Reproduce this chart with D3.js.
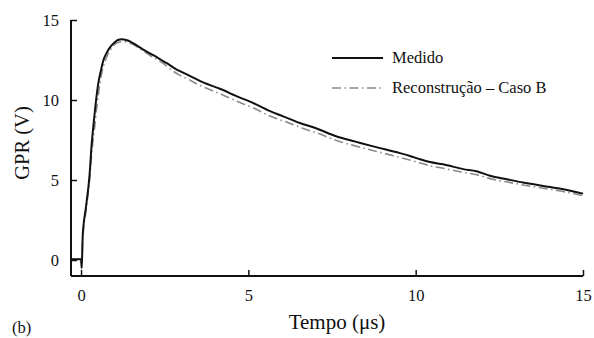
<!DOCTYPE html>
<html>
<head>
<meta charset="utf-8">
<script src="https://cdn.jsdelivr.net/npm/d3@7"></script>
<style>
  body { margin: 0; background: #fff; }
  text { font-family: "Liberation Serif", "Times New Roman", serif; fill: #111; }
</style>
</head>
<body>
<svg width="594" height="338"></svg>
<script>
// data (time in us, GPR in V)
var t_medido = [-0.3, 0.0, 0.02, 0.05, 0.15, 0.25, 0.32, 0.37, 0.45, 0.52, 0.6, 0.67, 0.78, 0.87, 1.0, 1.1, 1.22, 1.35, 1.5, 1.66, 1.9, 2.16, 2.4, 2.56, 2.86, 3.16, 3.4, 3.65, 4.15, 4.75, 5.05, 5.65, 6.04, 6.54, 7.04, 7.64, 8.2, 8.73, 9.53, 9.83, 10.13, 10.43, 10.82, 11.42, 11.82, 12.22, 12.72, 13.21, 13.81, 14.41, 15.0];
var v_medido = [0.05, 0.05, -0.5, 1.5, 3.35, 5.2, 7.3, 8.4, 10.0, 11.1, 11.9, 12.5, 13.0, 13.3, 13.6, 13.75, 13.8, 13.75, 13.62, 13.42, 13.1, 12.8, 12.5, 12.3, 11.9, 11.6, 11.35, 11.1, 10.7, 10.15, 9.9, 9.3, 8.98, 8.56, 8.22, 7.72, 7.4, 7.1, 6.68, 6.5, 6.3, 6.12, 5.98, 5.68, 5.55, 5.27, 5.05, 4.84, 4.63, 4.42, 4.15];

var t_rec = [-0.3, 0.0, 0.02, 0.05, 0.15, 0.25, 0.33, 0.4, 0.48, 0.55, 0.62, 0.7, 0.8, 0.9, 1.02, 1.15, 1.28, 1.4, 1.55, 1.7, 1.95, 2.2, 2.45, 2.6, 2.9, 3.2, 3.45, 3.7, 4.2, 4.8, 5.1, 5.7, 6.1, 6.6, 7.1, 7.7, 8.25, 8.8, 9.55, 9.85, 10.15, 10.45, 10.85, 11.45, 11.85, 12.25, 12.75, 13.25, 13.85, 14.45, 15.0];
var v_rec = [0.05, 0.05, -0.5, 1.3, 3.1, 4.9, 6.9, 8.2, 9.7, 10.8, 11.7, 12.3, 12.85, 13.2, 13.5, 13.62, 13.65, 13.6, 13.48, 13.28, 12.95, 12.6, 12.3, 12.05, 11.6, 11.3, 11.02, 10.78, 10.35, 9.8, 9.55, 8.95, 8.65, 8.25, 7.9, 7.42, 7.1, 6.8, 6.4, 6.24, 6.05, 5.88, 5.72, 5.46, 5.32, 5.07, 4.87, 4.67, 4.47, 4.26, 4.02];

var x_ticks = [0, 5, 10, 15];
var y_ticks = [0, 5, 10, 15];
var series_names = ["Medido", "Reconstrução – Caso B"];

var margin = {left: 71, right: 11, top: 20, bot: 62};

var svg = d3.select("svg");

var x = d3.scaleLinear().domain([-0.3, 15]).range([margin.left, 583]);
var y = d3.scaleLinear().domain([-1, 15]).range([276, 20]);

// axes (ticks inward)
var xAxis = d3.axisBottom(x).tickValues(x_ticks).tickSizeInner(-6).tickSizeOuter(0).tickPadding(13);
var yAxis = d3.axisLeft(y).tickValues(y_ticks).tickSizeInner(-6).tickSizeOuter(0).tickPadding(12);

var gx = svg.append("g").attr("transform", "translate(0,276)").call(xAxis);
var gy = svg.append("g").attr("transform", "translate(" + margin.left + ",0)").call(yAxis);

gx.select(".domain").attr("stroke", "#111").attr("stroke-width", 2).attr("d", "M" + margin.left + ",0H" + x(15));
gy.select(".domain").attr("stroke", "#111").attr("stroke-width", 2).attr("d", "M0," + y(-1) + "V" + y(15));
svg.selectAll(".tick line").attr("stroke", "#111").attr("stroke-width", 1.5);
svg.selectAll(".tick text").attr("font-size", 16.5).attr("fill", "#111");

// axis labels
svg.append("text").attr("x", 337).attr("y", 329).attr("text-anchor", "middle")
   .attr("font-size", 21).text("Tempo (μs)");
svg.append("text").attr("transform", "translate(29,143) rotate(-90)").attr("text-anchor", "middle")
   .attr("font-size", 20.5).text("GPR (V)");
svg.append("text").attr("x", 12).attr("y", 333).attr("font-size", 16.5).text("(b)");

// lines
var line = d3.line().x(function(d){ return x(d[0]); }).y(function(d){ return y(d[1]); }).curve(d3.curveMonotoneX);

var rec = d3.zip(t_rec, v_rec);
var med = d3.zip(t_medido, v_medido);

svg.append("path").datum(rec).attr("d", line).attr("fill", "none")
   .attr("stroke", "#8a8a8a").attr("stroke-width", 1.6).attr("stroke-dasharray", "9,3.5,1.5,3.5");
svg.append("path").datum(med).attr("d", line).attr("fill", "none")
   .attr("stroke", "#111").attr("stroke-width", 2);

// legend
var leg = svg.append("g");
leg.append("line").attr("x1", 332).attr("x2", 383).attr("y1", 58).attr("y2", 58)
   .attr("stroke", "#111").attr("stroke-width", 2);
leg.append("line").attr("x1", 332).attr("x2", 383).attr("y1", 88).attr("y2", 88)
   .attr("stroke", "#8a8a8a").attr("stroke-width", 1.6).attr("stroke-dasharray", "9,3.5,1.5,3.5");
leg.selectAll("text.lg").data(series_names).enter().append("text")
   .attr("class", "lg").attr("x", 392).attr("y", function(d, i){ return 63 + i * 30; })
   .attr("font-size", 16.5).text(function(d){ return d; });
</script>
</body>
</html>
